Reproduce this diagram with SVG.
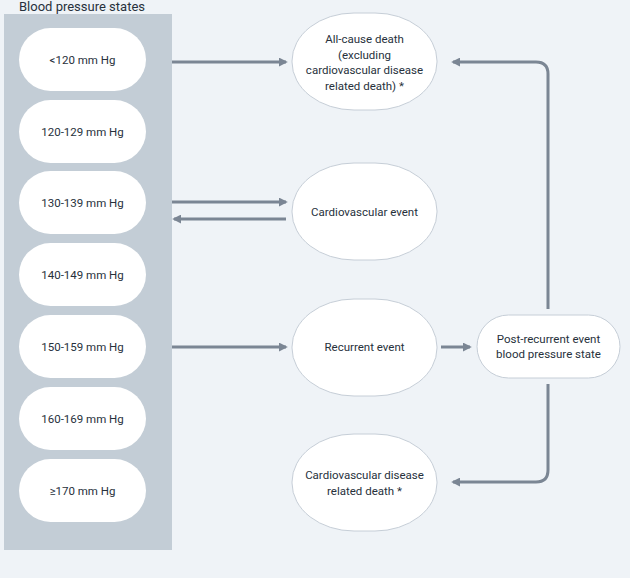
<svg xmlns="http://www.w3.org/2000/svg" width="630" height="578" viewBox="0 0 630 578">
<style>
.bg{fill:#eff3f7}
.panel{fill:#c3cdd6}
.pill{fill:#ffffff}
.node{fill:#ffffff;stroke:#c6ced7;stroke-width:1}
text{font-family:"Roboto","Noto Sans",sans-serif;font-size:11.5px;fill:#27313c;text-anchor:middle}
.title{font-size:13px;text-anchor:start}
.c{fill:none;stroke:#7b8694;stroke-width:3}
</style>
<defs>
<marker id="ah" viewBox="0 0 10 10" refX="8" refY="5" markerWidth="3" markerHeight="3" orient="auto" markerUnits="strokeWidth">
<path d="M0,0 L10,5 L0,10 z" fill="#7b8694"/>
</marker>
</defs>
<rect class="bg" x="0" y="0" width="630" height="578"/>
<text class="title" x="19" y="11">Blood pressure states</text>
<g id="panel">
<rect class="panel" x="4" y="14" width="168" height="536"/>
</g>
<g id="bp1"><rect class="pill" x="19" y="28" width="127" height="63" rx="31.5"/><text x="82.5" y="63.5">&lt;120 mm Hg</text></g>
<g id="bp2"><rect class="pill" x="19" y="100" width="127" height="63" rx="31.5"/><text x="82.5" y="135.5">120-129 mm Hg</text></g>
<g id="bp3"><rect class="pill" x="19" y="171" width="127" height="63" rx="31.5"/><text x="82.5" y="206.5">130-139 mm Hg</text></g>
<g id="bp4"><rect class="pill" x="19" y="243" width="127" height="63" rx="31.5"/><text x="82.5" y="278.5">140-149 mm Hg</text></g>
<g id="bp5"><rect class="pill" x="19" y="315" width="127" height="63" rx="31.5"/><text x="82.5" y="350.5">150-159 mm Hg</text></g>
<g id="bp6"><rect class="pill" x="19" y="387" width="127" height="63" rx="31.5"/><text x="82.5" y="422.5">160-169 mm Hg</text></g>
<g id="bp7"><rect class="pill" x="19" y="459" width="127" height="63" rx="31.5"/><text x="82.5" y="494.5">≥170 mm Hg</text></g>
<g id="allcause"><rect class="node" x="292" y="13" width="145" height="97" rx="62" ry="48"/>
<text x="364.5" y="43">All-cause death</text><text x="364.5" y="59">(excluding</text><text x="364.5" y="74">cardiovascular disease</text><text x="364.5" y="90">related death) *</text></g>
<g id="cvevent"><rect class="node" x="292" y="163" width="145" height="97" rx="62" ry="48"/><text x="364.5" y="215.5">Cardiovascular event</text></g>
<g id="recurrent"><rect class="node" x="292" y="299" width="145" height="97" rx="62" ry="48"/><text x="364.5" y="351">Recurrent event</text></g>
<g id="cvdeath"><rect class="node" x="292" y="434" width="145" height="97" rx="62" ry="48"/><text x="364.5" y="479">Cardiovascular disease</text><text x="364.5" y="495">related death *</text></g>
<g id="post"><rect class="node" x="477" y="315" width="143" height="63" rx="31.5"/><text x="548.5" y="343">Post-recurrent event</text><text x="548.5" y="358">blood pressure state</text></g>
<g id="connectors">
<path class="c" d="M172,62 H286" marker-end="url(#ah)"/>
<path class="c" d="M172,202 H286" marker-end="url(#ah)"/>
<path class="c" d="M286,219 H174" marker-end="url(#ah)"/>
<path class="c" d="M172,347 H286" marker-end="url(#ah)"/>
<path class="c" d="M441,347 H470" marker-end="url(#ah)"/>
<path class="c" d="M548,309 V74 Q548,62 536,62 H453" marker-end="url(#ah)"/>
<path class="c" d="M548,384 V470 Q548,482 536,482 H453" marker-end="url(#ah)"/>
</g>
</svg>
